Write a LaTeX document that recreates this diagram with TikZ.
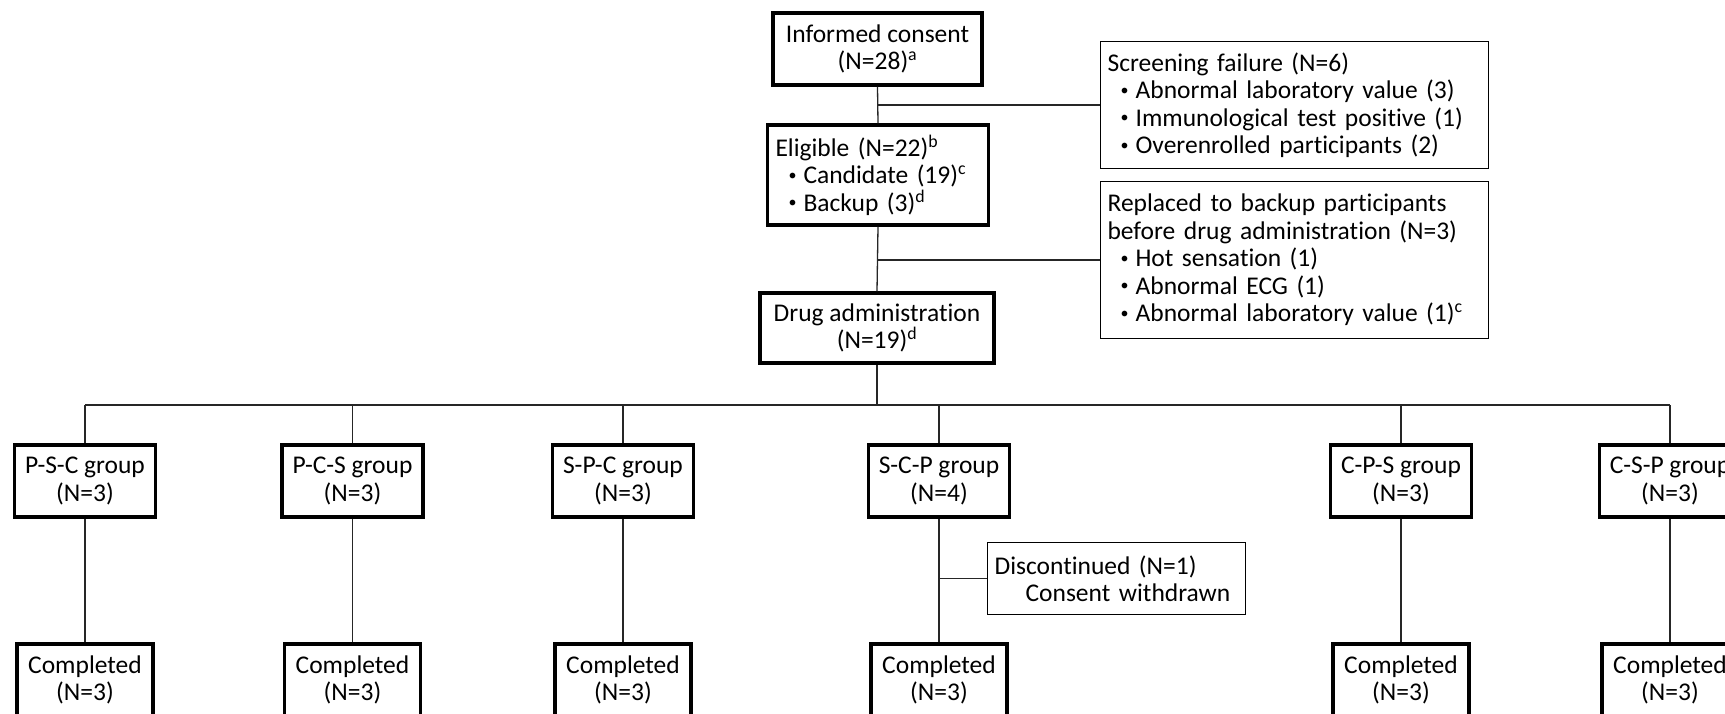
\documentclass[tikz,border=0pt]{standalone}
\usepackage{fontspec}
\setmainfont{Carlito}[Ligatures=CommonOff]
\newcommand{\bdot}{\raisebox{3.5pt}{\fontsize{16}{16}\selectfont •}}
\newcommand{\blt}[1]{\mbox{\hspace*{13pt}\makebox[15pt][l]{\bdot}#1}}
\begin{document}
\begin{tikzpicture}[x=1pt,y=-1pt,
  every node/.style={font=\fontsize{25.5}{27.5}\selectfont},
  mainbox/.style={draw=black, line width=3.5pt, fill=white, inner sep=0pt, align=center},
  groupbox/.style={mainbox, minimum width=141pt, minimum height=72pt},
  donebox/.style={mainbox, minimum width=136pt, minimum height=72pt},
  sidebox/.style={draw=black, line width=1.2pt, fill=white, inner ysep=0pt, inner xsep=7pt, align=left, anchor=north west},
  link/.style={draw=black!85, line width=1.3pt}]
\useasboundingbox (0,0) rectangle (1725,713);
\clip (0,0) rectangle (1725,713);

% main column
\node[mainbox, minimum width=209pt, minimum height=72pt] (consent) at (877.5,49) {Informed consent\\(N=28)\textsuperscript{a}};
\node[mainbox, align=left, text width=205pt, inner xsep=8pt, minimum height=100pt] (eligible) at (878,175) {\mbox{Eligible (N=22)\textsuperscript{b}}\\\blt{Candidate (19)\textsuperscript{c}}\\\blt{Backup (3)\textsuperscript{d}}};
\node[mainbox, minimum width=234pt, minimum height=70pt] (drug) at (877,328) {Drug administration\\(N=19)\textsuperscript{d}};

% side boxes
\node[sidebox, text width=374pt, minimum height=127pt] (screen) at (1100,41) {\mbox{Screening failure (N=6)}\\\blt{Abnormal laboratory value (3)}\\\blt{Immunological test positive (1)}\\\blt{Overenrolled participants (2)}};
\node[sidebox, text width=374pt, minimum height=157pt] (replaced) at (1100,181) {\mbox{Replaced to backup participants}\\\mbox{before drug administration (N=3)}\\\blt{Hot sensation (1)}\\\blt{Abnormal ECG (1)}\\\blt{Abnormal laboratory value (1)\textsuperscript{c}}};

% groups
\node[groupbox] (g1) at (85,481) {P-S-C group\\(N=3)};
\node[groupbox] (g2) at (352.5,481) {P-C-S group\\(N=3)};
\node[groupbox] (g3) at (623,481) {S-P-C group\\(N=3)};
\node[groupbox] (g4) at (939,481) {S-C-P group\\(N=4)};
\node[groupbox] (g5) at (1401,481) {C-P-S group\\(N=3)};
\node[groupbox] (g6) at (1670,481) {C-S-P group\\(N=3)};

% completed
\node[donebox] (c1) at (85,680) {Completed\\(N=3)};
\node[donebox] (c2) at (352.5,680) {Completed\\(N=3)};
\node[donebox] (c3) at (623,680) {Completed\\(N=3)};
\node[donebox] (c4) at (939,680) {Completed\\(N=3)};
\node[donebox] (c5) at (1401,680) {Completed\\(N=3)};
\node[donebox] (c6) at (1670,680) {Completed\\(N=3)};

% discontinued
\node[sidebox, text width=244pt, minimum height=72pt] (disc) at (987,542) {\mbox{Discontinued (N=1)}\\\mbox{\hspace*{31pt}Consent withdrawn}};

% connectors
\coordinate (bus) at (0,405);
\draw[link] (consent.south) -- (eligible.north);
\draw[link] (screen.west) -- (screen.west -| consent.south);
\draw[link] (eligible.south) -- (drug.north);
\draw[link] (replaced.west) -- (replaced.west -| eligible.south);
\draw[link] (drug.south) -- (drug.south |- bus);
\draw[link] (g1.north |- bus) -- (g6.north |- bus);
\foreach \i in {1,...,6}{
  \draw[link] (g\i.north |- bus) -- (g\i.north);
  \draw[link] (g\i.south) -- (c\i.north);
}
\draw[link] (disc.west) -- (disc.west -| g4.south);
\end{tikzpicture}
\end{document}
